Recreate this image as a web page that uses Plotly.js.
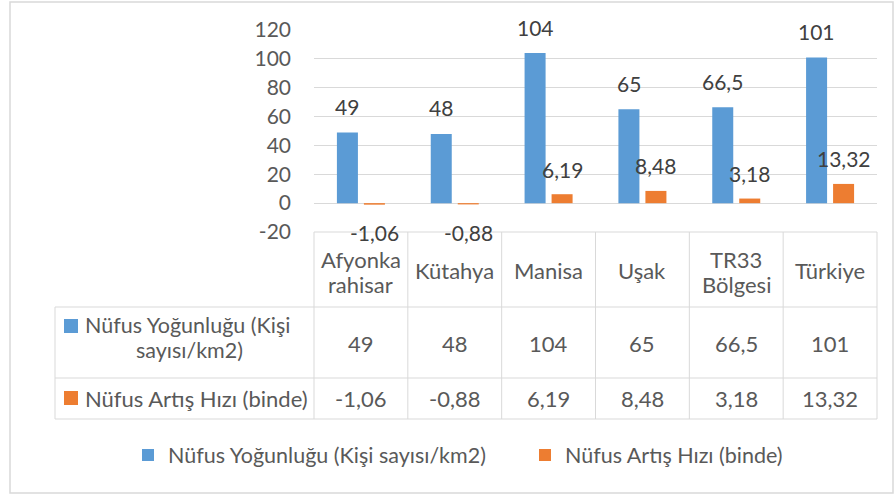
<!DOCTYPE html>
<html>
<head>
<meta charset="utf-8">
<script src="https://cdn.plot.ly/plotly-3.0.1.min.js"></script>
<style>html,body{margin:0;padding:0;background:#fff;}#chart{width:894px;height:494px;}</style>
</head>
<body>
<div id="chart"></div>
<script>
// ---- data ----
const categories = ["Afyonkarahisar", "Kütahya", "Manisa", "Uşak", "TR33 Bölgesi", "Türkiye"];
const headerLines = [["Afyonka", "rahisar"], ["Kütahya"], ["Manisa"], ["Uşak"], ["TR33", "Bölgesi"], ["Türkiye"]];
const densityName = "Nüfus Yoğunluğu (Kişi sayısı/km2)";
const growthName = "Nüfus Artış Hızı (binde)";
const densityRowLines = ["Nüfus Yoğunluğu (Kişi", "sayısı/km2)"];
const density = [49, 48, 104, 65, 66.5, 101];
const growth = [-1.06, -0.88, 6.19, 8.48, 3.18, 13.32];
const yTicks = [-20, 0, 20, 40, 60, 80, 100, 120];

// ---- layout helpers ----
const W = 894, H = 494;
const plotL = 314, plotR = 877, plotT = 30, plotB = 232;
const px = v => v / W;
const py = v => 1 - v / H;
const colW = (plotR - plotL) / categories.length;
const colEdge = k => px(plotL + k * colW);
const fmt = v => String(v).replace('.', ',');

const FONT = "Lato, 'Open Sans', sans-serif";
const BLUE = "#5B9BD5", ORANGE = "#ED7D31";
const TXT = "#595959", LBL = "#404040", GRID = "#D9D9D9";
const FS = 22;

const traces = [
  {type: 'bar', name: densityName, x: categories, y: density, marker: {color: BLUE}, hoverinfo: 'x+y'},
  {type: 'bar', name: growthName, x: categories, y: growth, marker: {color: ORANGE}, hoverinfo: 'x+y'}
];

const shapes = [];
const annotations = [];
const line = (x0, y0, x1, y1) => shapes.push({type: 'line', xref: 'paper', yref: 'paper',
  x0: px(x0), y0: py(y0), x1: px(x1), y1: py(y1), line: {color: GRID, width: 1}});

// outer chart border
shapes.push({type: 'rect', xref: 'paper', yref: 'paper', x0: px(10), y0: py(493), x1: px(893), y1: py(2),
  line: {color: GRID, width: 1.5}, layer: 'below'});

// data table grid
const tTop = 232, tHead = 307, tRow1 = 378, tBot = 419, tLeft = 55;
line(plotL, tTop, plotR, tTop);
line(tLeft, tHead, plotR, tHead);
line(tLeft, tRow1, plotR, tRow1);
line(tLeft, tBot, plotR, tBot);
line(tLeft, tHead, tLeft, tBot);
for (let k = 0; k <= categories.length; k++) {
  shapes.push({type: 'line', xref: 'paper', yref: 'paper', x0: colEdge(k), x1: colEdge(k),
    y0: py(tTop), y1: py(tBot), line: {color: GRID, width: 1}});
}
// legend keys inside table
shapes.push({type: 'rect', xref: 'paper', yref: 'paper', x0: px(64), x1: px(78), y0: py(333), y1: py(319),
  fillcolor: BLUE, line: {width: 0}});
shapes.push({type: 'rect', xref: 'paper', yref: 'paper', x0: px(64), x1: px(78), y0: py(405), y1: py(391),
  fillcolor: ORANGE, line: {width: 0}});

const tfont = {family: FONT, size: FS, color: TXT};
// header (category) cells
headerLines.forEach((lines, i) => {
  const ys = lines.length === 1 ? [270] : [259, 284];
  lines.forEach((t, j) => annotations.push({xref: 'x', yref: 'paper', x: categories[i], y: py(ys[j]),
    text: t, showarrow: false, xanchor: 'center', yanchor: 'middle', font: tfont}));
});
// row labels
annotations.push({xref: 'paper', yref: 'paper', x: px(83), y: py(325), text: densityRowLines[0],
  showarrow: false, xanchor: 'left', yanchor: 'middle', font: {family: FONT, size: 21.5, color: TXT}});
annotations.push({xref: 'paper', yref: 'paper', x: px(189), y: py(350), text: densityRowLines[1],
  showarrow: false, xanchor: 'center', yanchor: 'middle', font: {family: FONT, size: 21.5, color: TXT}});
annotations.push({xref: 'paper', yref: 'paper', x: px(83), y: py(398), text: growthName,
  showarrow: false, xanchor: 'left', yanchor: 'middle', font: tfont});
// row values
categories.forEach((c, i) => {
  annotations.push({xref: 'x', yref: 'paper', x: c, y: py(343), text: fmt(density[i]),
    showarrow: false, xanchor: 'center', yanchor: 'middle', font: tfont});
  annotations.push({xref: 'x', yref: 'paper', x: c, y: py(398.5), text: fmt(growth[i]),
    showarrow: false, xanchor: 'center', yanchor: 'middle', font: tfont});
});

// data labels above/below bars
const lfont = {family: FONT, size: 21, color: LBL};
categories.forEach((c, i) => {
  annotations.push({xref: 'x', yref: 'y', x: c, y: density[i], xshift: -13.5, yshift: 26,
    text: fmt(density[i]), showarrow: false, xanchor: 'center', yanchor: 'middle', font: lfont});
  const g = growth[i];
  annotations.push({xref: 'x', yref: 'y', x: c, y: g, xshift: 13.5, yshift: g < 0 ? -28 : 25,
    text: fmt(g), showarrow: false, xanchor: 'center', yanchor: 'middle', font: lfont});
});

const layout = {
  width: W, height: H,
  margin: {l: 0, r: 0, t: 0, b: 0, autoexpand: false},
  paper_bgcolor: '#fff', plot_bgcolor: 'rgba(0,0,0,0)',
  barmode: 'group', bargap: 0.4245, bargroupgap: 0.222,
  font: {family: FONT, size: FS, color: TXT},
  xaxis: {domain: [px(plotL), px(plotR)], showticklabels: false, showgrid: false, zeroline: false,
    showline: false, ticks: '', fixedrange: true, automargin: false},
  yaxis: {domain: [py(plotB), py(plotT)], range: [-20, 120], tickvals: yTicks,
    ticktext: yTicks.map(String), showgrid: true, gridcolor: GRID, gridwidth: 1,
    zeroline: true, zerolinecolor: GRID, zerolinewidth: 1, showline: false, ticks: '',
    ticklabelstandoff: 22, tickfont: {family: FONT, size: 21, color: TXT}, fixedrange: true, automargin: false},
  showlegend: true,
  legend: {orientation: 'h', x: px(128), xanchor: 'left', y: py(455), yanchor: 'middle',
    entrywidth: 352, entrywidthmode: 'pixels',
    font: {family: FONT, size: 21.5, color: TXT}, bgcolor: 'rgba(0,0,0,0)', traceorder: 'normal'},
  shapes: shapes,
  annotations: annotations
};

Plotly.newPlot('chart', traces, layout, {displayModeBar: false, staticPlot: true});
</script>
</body>
</html>
